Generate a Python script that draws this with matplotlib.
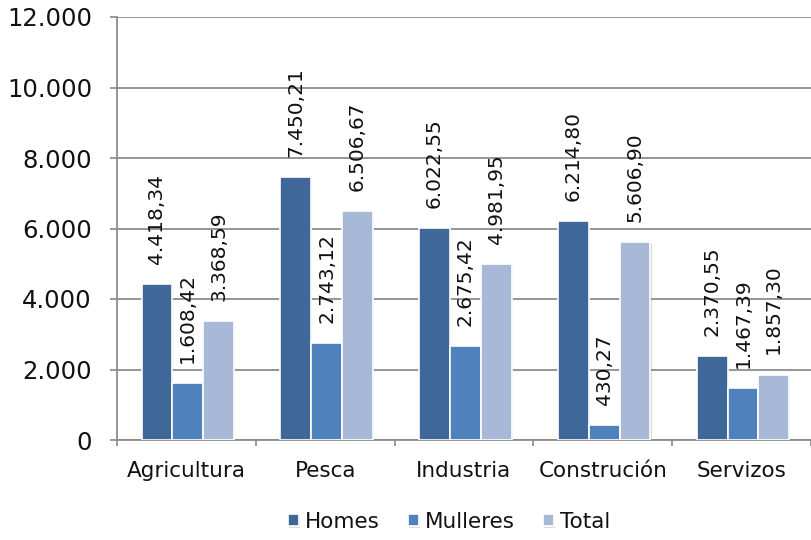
import matplotlib
matplotlib.use("Agg")
import matplotlib.pyplot as plt
import matplotlib.patheffects as pe
import numpy as np
from matplotlib.ticker import FuncFormatter, FixedLocator

categories = ["Agricultura", "Pesca", "Industria", "Construción", "Servizos"]
series_names = ["Homes", "Mulleres", "Total"]
homes = [4418.34, 7450.21, 6022.55, 6214.80, 2370.55]
mulleres = [1608.42, 2743.12, 2675.42, 430.27, 1467.39]
total = [3368.59, 6506.67, 4981.95, 5606.90, 1857.30]
colors = ["#3F6797", "#4F81BD", "#A8B9D8"]

plt.rcParams["font.family"] = ["DejaVu Sans"]


def es_number(v, decimals=2):
    s = f"{v:,.{decimals}f}"
    return s.replace(",", "X").replace(".", ",").replace("X", ".")


fig = plt.figure(figsize=(8.11, 5.40), dpi=100)
ax = fig.add_axes([117 / 811, 100 / 540, (811 - 117) / 811, (440 - 17) / 540])

x = np.arange(len(categories))
width = 0.222
data = [homes, mulleres, total]
shadow = [pe.SimplePatchShadow(offset=(0.8, -0.8), shadow_rgbFace="#999999", alpha=0.35),
          pe.Normal()]
for i, (vals, col, name) in enumerate(zip(data, colors, series_names)):
    pos = x + (i - 1) * width + 0.01
    ax.bar(pos, vals, width=width, color=col, edgecolor="white",
           linewidth=1.2, label=name, zorder=3, path_effects=shadow)
    for p, v in zip(pos, vals):
        ax.annotate(es_number(v), xy=(p, v), xytext=(0, 14.5),
                    textcoords="offset points", rotation=90, ha="center",
                    va="bottom", fontsize=14.5, color="#111111", zorder=4)

ax.set_xlim(-0.5, len(categories) - 0.5)
ax.set_ylim(0, 12000)
ax.set_yticks(np.arange(0, 12001, 2000))
ax.yaxis.set_major_formatter(FuncFormatter(lambda v, _: es_number(v, 0)))
ax.set_xticks(x)
ax.set_xticklabels(categories)
ax.xaxis.set_minor_locator(FixedLocator(np.arange(-0.5, len(categories), 1.0)))
ax.tick_params(axis="x", which="major", length=0, pad=15, labelsize=15.5,
               labelcolor="#111111")
ax.tick_params(axis="x", which="minor", length=4.5, color="#888888", width=1.2)
ax.tick_params(axis="y", length=5, color="#888888", width=1.2, labelsize=17.5,
               pad=13, labelcolor="#111111")

ax.grid(axis="y", color="#8c8c8c", linewidth=1.3, zorder=0)
for side in ["top", "right"]:
    ax.spines[side].set_visible(False)
for side in ["left", "bottom"]:
    ax.spines[side].set_color("#8c8c8c")
    ax.spines[side].set_linewidth(1.3)

leg = fig.legend(loc="center", bbox_to_anchor=(0.554, 18 / 540), ncol=3,
                 frameon=False, fontsize=15.5, handlelength=0.5, handleheight=0.5,
                 handletextpad=0.3, columnspacing=1.3)
for t in leg.get_texts():
    t.set_color("#111111")

fig.savefig("out.png", dpi=100)
